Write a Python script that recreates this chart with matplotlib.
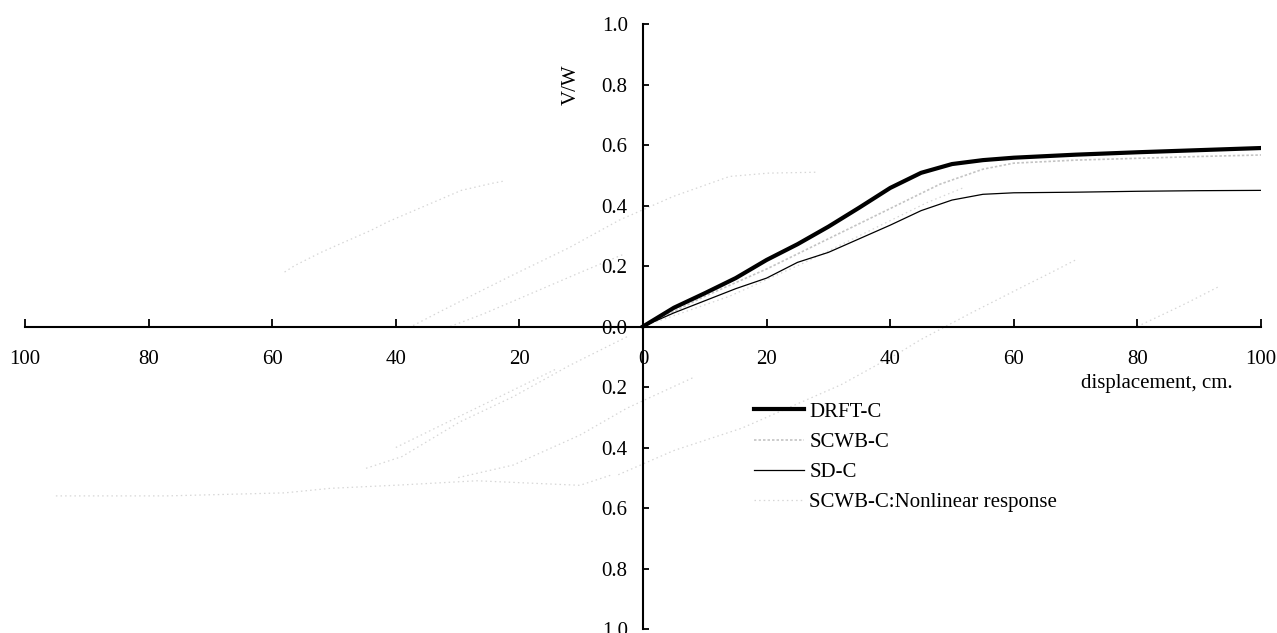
import numpy as np
import matplotlib
matplotlib.use("Agg")
import matplotlib.pyplot as plt
from matplotlib.lines import Line2D
from matplotlib.ticker import FuncFormatter, MultipleLocator

plt.rcParams["font.family"] = ["Liberation Serif", "DejaVu Serif"]

# pushover curves (displacement in cm, base shear ratio V/W)
drft_x = [0, 5, 10, 15, 20, 25, 30, 35, 40, 45, 50, 55, 60, 70, 80, 90, 100]
drft_y = [0, 0.062, 0.11, 0.16, 0.22, 0.272, 0.33, 0.393, 0.458, 0.508, 0.537, 0.55, 0.558, 0.568, 0.576, 0.583, 0.59]

scwb_x = [0, 10, 20, 30, 40, 48, 55, 60, 70, 80, 90, 100]
scwb_y = [0, 0.10, 0.19, 0.29, 0.39, 0.47, 0.52, 0.54, 0.55, 0.556, 0.562, 0.567]

sd_x = [0, 5, 10, 15, 20, 25, 30, 35, 40, 45, 50, 55, 60, 70, 80, 90, 100]
sd_y = [0, 0.045, 0.085, 0.125, 0.16, 0.212, 0.245, 0.29, 0.335, 0.383, 0.418, 0.437, 0.442, 0.444, 0.447, 0.449, 0.45]

# cyclic (nonlinear) response, branches separated by NaN
nan = np.nan
nl_x = [-58, -56.3, -52.1, -49.8, -44.1, -41.3, -29.4, -24.5, -22.7, nan,
        -37.2, -32, -25.9, -21.7, -12, -3.8, 4.9, 14, 20.3, 28, nan,
        -31.2, -25.9, -18, -10, -3, nan,
        -2.6, -12, -21, -29.6, -39, -45, nan,
        -40, -30, -20, -14, nan,
        8, -2.6, -10.2, -21, -30, nan,
        -95, -77, -58, -50.6, -39.3, -26.9, -10.2, -5, nan,
        -4, 5, 16, 32, 41.6, 44.8, 49.4, 53.4, 61.7, 66, 70, nan,
        0, 14, 26, 36, 46, 52, nan,
        80, 86.2, 88.4, 93]
nl_y = [0.18, 0.202, 0.245, 0.266, 0.317, 0.346, 0.45, 0.473, 0.48, nan,
        0.003, 0.058, 0.121, 0.164, 0.26, 0.352, 0.43, 0.496, 0.507, 0.51, nan,
        0, 0.041, 0.11, 0.18, 0.24, nan,
        -0.034, -0.13, -0.232, -0.315, -0.43, -0.47, nan,
        -0.40, -0.30, -0.20, -0.14, nan,
        -0.17, -0.27, -0.359, -0.458, -0.5, nan,
        -0.56, -0.56, -0.55, -0.535, -0.524, -0.51, -0.525, -0.49, nan,
        -0.49, -0.41, -0.336, -0.193, -0.085, -0.045, 0.005, 0.048, 0.134, 0.178, 0.22, nan,
        0, 0.10, 0.21, 0.31, 0.41, 0.46, nan,
        0, 0.06, 0.082, 0.13]

x_ticks = np.arange(-100, 101, 20)
y_ticks = np.arange(-1.0, 1.01, 0.2)

NL_COLOR = "#d6d6d6"
SCWB_COLOR = "#c4c4c4"

fig = plt.figure(figsize=(12.77, 6.33), dpi=100)
ax = fig.add_axes([25 / 1277, 4 / 633, 1236 / 1277, 605 / 633])

ax.plot(nl_x, nl_y, color=NL_COLOR, lw=0.9, ls=(0, (1.2, 2.5)), zorder=1)
ax.plot(scwb_x, scwb_y, color=SCWB_COLOR, lw=1.2, ls=(0, (1.5, 1.2)), zorder=2)
ax.plot(sd_x, sd_y, color="black", lw=0.9, zorder=3)
ax.plot(drft_x, drft_y, color="black", lw=3.0, zorder=4)

ax.set_xlim(-100, 100)
ax.set_ylim(-1.0, 1.0)
ax.set_xticks(x_ticks)
ax.set_yticks(y_ticks)
ax.xaxis.set_major_formatter(FuncFormatter(lambda v, p: f"{abs(v):.0f}"))
ax.yaxis.set_major_formatter(FuncFormatter(lambda v, p: f"{abs(v):.1f}"))

for side in ("top", "right"):
    ax.spines[side].set_visible(False)
ax.spines["left"].set_position(("data", 0))
ax.spines["bottom"].set_position(("data", 0))
ax.spines["left"].set_linewidth(1.5)
ax.spines["bottom"].set_linewidth(1.5)
ax.tick_params(axis="x", direction="in", length=5.5, width=1.3, pad=17, labelsize=15)
ax.tick_params(axis="y", direction="in", length=4.5, width=1.3, pad=11, labelsize=15)

ax.text(-11.6, 0.798, "V/W", rotation=90, ha="center", va="center", fontsize=15)
ax.text(83.2, -0.188, "displacement, cm.", ha="center", va="center", fontsize=15)

handles = [
    Line2D([], [], color="black", lw=3.0),
    Line2D([], [], color=SCWB_COLOR, lw=1.2, ls=(0, (1.5, 1.2))),
    Line2D([], [], color="black", lw=0.9),
    Line2D([], [], color=NL_COLOR, lw=0.9, ls=(0, (1.2, 2.5))),
]
labels = ["DRFT-C", "SCWB-C", "SD-C", "SCWB-C:Nonlinear response"]
ax.legend(handles, labels, loc="upper left", bbox_to_anchor=(17.9, -0.25),
          bbox_transform=ax.transData, frameon=False, fontsize=15,
          borderpad=0, borderaxespad=0, handlelength=2.4, handletextpad=0.27,
          labelspacing=0.51)

fig.savefig("out.png", dpi=100)
